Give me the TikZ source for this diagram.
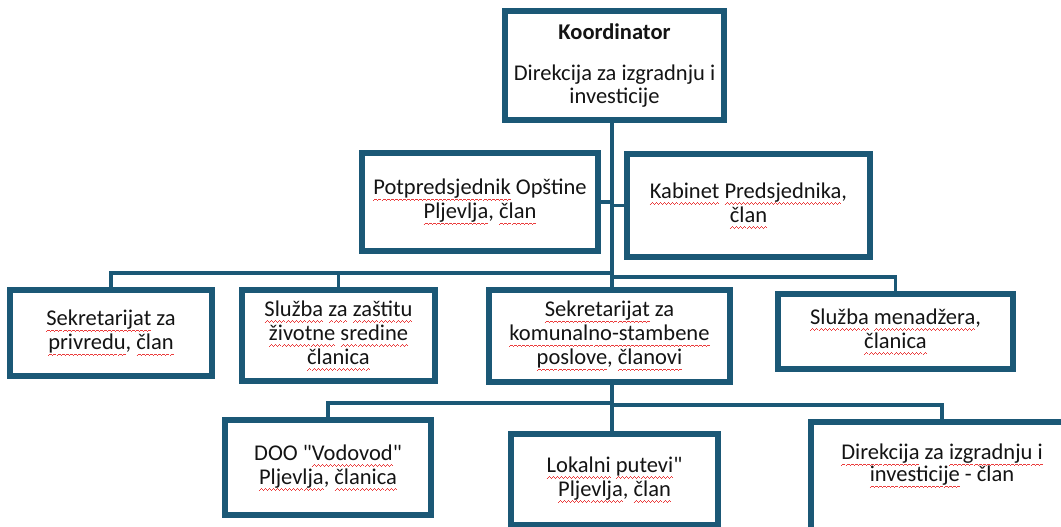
\documentclass[tikz,border=0pt]{standalone}
\usepackage{fontspec}
\setmainfont{Carlito}
\definecolor{boxblue}{RGB}{27,88,118}
\definecolor{txt}{RGB}{20,20,20}
\definecolor{spell}{RGB}{235,60,60}
\newsavebox\spkbox
\newcommand\wstep[1]{\raise#1\hbox{\vrule width 1pt height .8pt depth 0pt}}
\newcommand\wunit{\hbox{\wstep{-6pt}\wstep{-5.3pt}\wstep{-4.6pt}\wstep{-5.3pt}}}
\newcommand\spk[1]{\sbox\spkbox{#1}\rlap{\hbox to\wd\spkbox{\color{spell}\xleaders\wunit\hfil}}\usebox\spkbox}
\begin{document}
\begin{tikzpicture}[x=1pt,y=-1pt,
  orgbox/.style={draw=boxblue,line width=4pt,fill=white,inner sep=0pt,align=center,
    text=txt,font=\fontsize{22.5}{24}\selectfont},
  conn/.style={draw=boxblue,line width=3.2pt}]
\useasboundingbox (0,0) rectangle (1061,527);
\clip (0,0) rectangle (1061,527);
\fill[white] (0,0) rectangle (1061,527);
% junction coordinates
\coordinate (t1) at (612,273);
\coordinate (t2) at (612,277);
\coordinate (t3) at (612,403);
\coordinate (t4) at (612,405);
% boxes (positions)
\path
 (614.5,65.5) node[orgbox,minimum width=217,minimum height=107] (top)
   {{\bfseries Koordinator}\\[17pt]Direkcija za izgradnju i\\[-1pt]investicije}
 (480,202) node[orgbox,minimum width=234,minimum height=96] (pot)
   {\spk{Potpredsjednik} Opštine\\\spk{Pljevlja}, \spk{član}}
 (748.5,205.5) node[orgbox,minimum width=241,minimum height=101] (kab)
   {\spk{Kabinet} \spk{Predsjednika},\\\spk{član}}
 (111,333) node[orgbox,minimum width=200,minimum height=84] (sp)
   {\spk{Sekretarijat} za\\\spk{privredu}, \spk{član}}
 (338.5,335.5) node[orgbox,minimum width=191,minimum height=89] (sz)
   {\spk{Služba} \spk{za} \spk{zaštitu}\\\spk{životne} \spk{sredine}\\\spk{članica}}
 (609.5,336) node[orgbox,minimum width=239,minimum height=90] (sk)
   {\spk{Sekretarijat} za\\\spk{komunalno-stambene}\\\spk{poslove}, \spk{članovi}}
 (895.5,331.5) node[orgbox,minimum width=233,minimum height=73] (sm)
   {\spk{Služba} \spk{menadžera},\\\spk{članica}}
 (328,467.5) node[orgbox,minimum width=204,minimum height=93] (doo)
   {DOO \textquotedbl\spk{Vodovod}\textquotedbl\\\spk{Pljevlja}, \spk{članica}}
 (614.5,479.5) node[orgbox,minimum width=205,minimum height=89] (lok)
   {\spk{Lokalni} \spk{putevi}\textquotedbl\\\spk{Pljevlja}, \spk{član}}
 (942,481.5) node[orgbox,minimum width=260,minimum height=117] (dir) {};
% connectors
\draw[conn] (top.south -| t1) -- (sk.north -| t1);
\draw[conn] (pot.east) -- (pot.east -| t1);
\draw[conn] (kab.west -| t1) -- (kab.west);
\draw[conn] (sp.north) |- (t1);
\draw[conn] (sz.north) |- (t1);
\draw[conn] (sm.north) |- (t2);
\draw[conn] (sk.south -| t1) -- (lok.north -| t1);
\draw[conn] (doo.north) |- (t3);
\draw[conn] (dir.north) |- (t4);
% redraw box borders on top of connectors
\foreach \n in {top,pot,kab,sp,sz,sk,sm,doo,lok,dir}{
  \draw[boxblue,line width=4pt] (\n.north west) rectangle (\n.south east);
}
\node[anchor=north,align=center,text=txt,inner sep=0pt,font=\fontsize{22.5}{22}\selectfont] (dirtext)
  at (942,444) {\spk{Direkcija} za \spk{izgradnju i}\\\spk{investicije} - član};
\end{tikzpicture}
\end{document}
